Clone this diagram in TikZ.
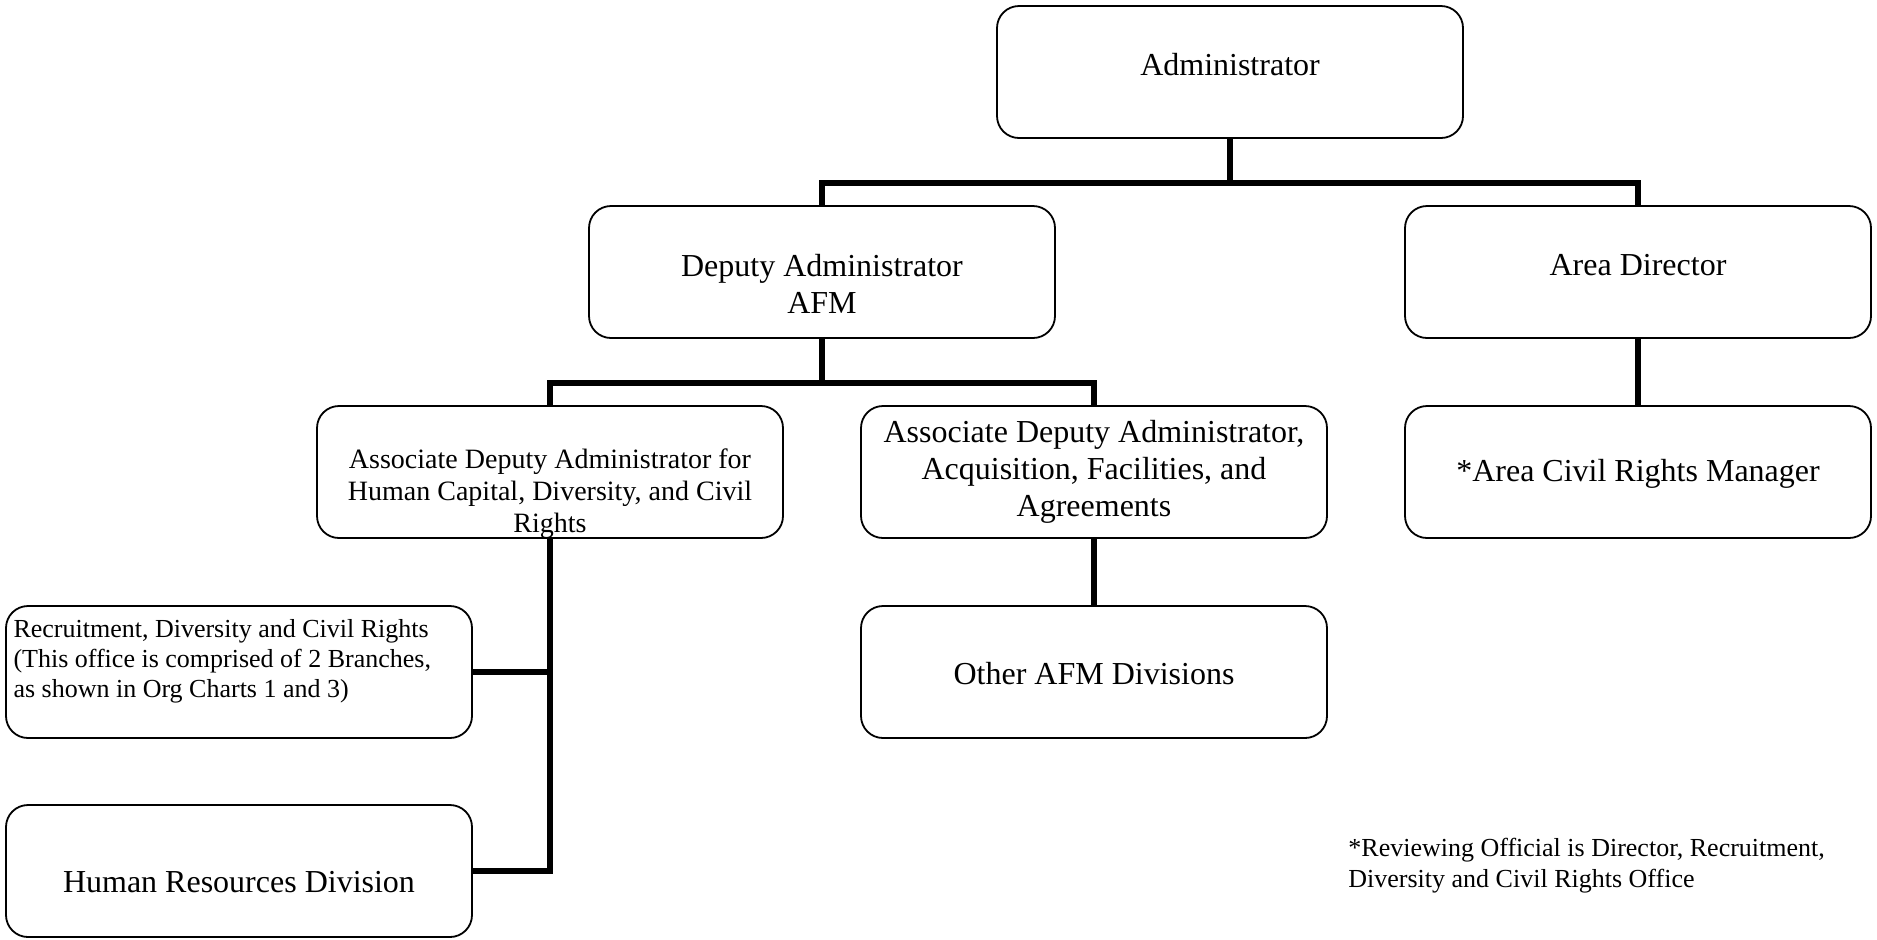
\documentclass[tikz,border=0pt]{standalone}
\usepackage{fontspec}
\setmainfont{Liberation Serif}
\tikzset{
  box/.style={draw, line width=0.9pt, rounded corners=11pt, minimum width=233pt, minimum height=66pt, inner sep=0pt},
  lbl/.style={align=center, inner sep=0pt, font=\fontsize{16}{18.4}\selectfont},
  small/.style={font=\fontsize{14}{16}\selectfont},
  tiny/.style={font=\fontsize{13}{15}\selectfont},
  conn/.style={line width=3pt},
}

\begin{document}
\begin{tikzpicture}[x=0.5pt,y=-0.5pt]
  \useasboundingbox (0,0) rectangle (1877,939);

  \node[box, label={[lbl,yshift=3.5pt]center:{Administrator}}] (admin) at (1230,72) {};

  \node[box, label={[lbl,yshift=-5.75pt]center:{Deputy Administrator\\AFM}}] (dep) at (822,272) {};
  \node[box, label={[lbl,yshift=3.5pt]center:{Area Director}}] (area) at (1638,272) {};

  \node[box, label={[lbl,small,yshift=-10.8pt]center:{Associate Deputy Administrator for\\Human Capital, Diversity, and Civil\\Rights}}] (adahc) at (550,472) {};
  \node[box, label={[lbl,yshift=0.2pt]center:{Associate Deputy Administrator,\\Acquisition, Facilities, and\\Agreements}}] (adaafa) at (1094,472) {};
  \node[box, label={[lbl,yshift=-0.8pt]center:{*Area Civil Rights Manager}}] (acrm) at (1638,472) {};

  \node[box, label={[lbl,yshift=-1pt]center:{Other AFM Divisions}}] (afm) at (1094,672) {};
  \node[box, label={[lbl,tiny,align=left,anchor=north west,xshift=4pt,yshift=-7pt]north west:{Recruitment, Diversity and Civil Rights\\(This office is comprised of 2 Branches,\\as shown in Org Charts 1 and 3)}}] (rdcr) at (239,672) {};
  \node[box, label={[lbl,yshift=-5.5pt]center:{Human Resources Division}}] (hrd) at (239,871) {};

  \node[align=left, inner sep=0pt, anchor=north west, font=\fontsize{13}{15.5}\selectfont] (note) at (1348,838) {*Reviewing Official is Director, Recruitment,\\Diversity and Civil Rights Office};

  \foreach \from/\to in {admin/dep, admin/area, dep/adahc, dep/adaafa, area/acrm, adaafa/afm}
    \draw[conn] (\from.south) -- ++(0,44) -| (\to.north);
  \draw[conn] (adahc.south) |- (hrd.east);
  \draw[conn] (rdcr.east) -- (rdcr.east -| adahc.south);
\end{tikzpicture}
\end{document}
